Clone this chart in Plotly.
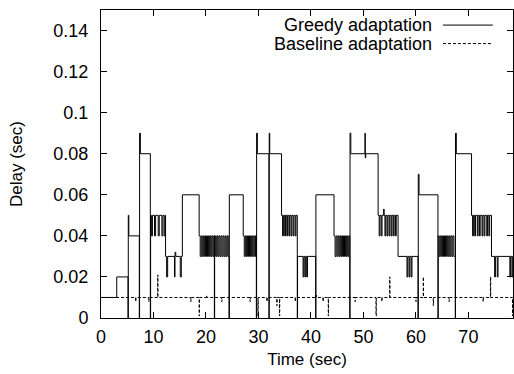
import plotly.graph_objects as go

# ---------------- data ----------------
greedy_steps = [
    (0.0, 0.01), (3.0, 0.02), (5.15, 0.0), (5.2, 0.05), (5.3, 0.04),
    (7.3, 0.0), (7.35, 0.09), (7.5, 0.08), (9.4, 0.0), (9.45, 0.05),
    (9.6, 0.04), (9.8, 0.05), (10.2, 0.04), (10.4, 0.05), (10.9, 0.04), (11.1, 0.05),
    (11.6, 0.04), (11.8, 0.05), (12.05, 0.04), (12.25, 0.05),
    (12.3, 0.03), (12.5, 0.02), (12.7, 0.03), (14.0, 0.02), (14.1, 0.032), (14.25, 0.03),
    (15.1, 0.02), (15.3, 0.03), (15.5, 0.06),
    (18.7, 0.04), (18.9, 0.03), (19.1, 0.04), (19.3, 0.03), (19.5, 0.04), (19.7, 0.03),
    (19.9, 0.04), (20.1, 0.03), (20.3, 0.04), (20.5, 0.03), (20.7, 0.04), (20.9, 0.03),
    (21.1, 0.04), (21.3, 0.03), (21.5, 0.04),
    (21.6, 0.0), (21.65, 0.04), (21.85, 0.03), (22.05, 0.04), (22.25, 0.03), (22.45, 0.04),
    (22.65, 0.03), (22.85, 0.04), (23.05, 0.03), (23.25, 0.04), (23.45, 0.03), (23.65, 0.04),
    (23.85, 0.03), (24.05, 0.04), (24.25, 0.03),
    (24.4, 0.0), (24.45, 0.06),
    (27.1, 0.04), (27.3, 0.03), (27.5, 0.04), (27.7, 0.03), (27.9, 0.04), (28.1, 0.03),
    (28.3, 0.04), (28.5, 0.03), (28.7, 0.04), (28.9, 0.03), (29.1, 0.04), (29.3, 0.03),
    (29.45, 0.04),
    (29.6, 0.0), (29.65, 0.09), (29.8, 0.08), (32.0, 0.0), (32.05, 0.09), (32.15, 0.08),
    (34.4, 0.05), (34.6, 0.04), (34.75, 0.05), (35.0, 0.04), (35.15, 0.05), (35.4, 0.04),
    (35.55, 0.05), (35.8, 0.04), (35.95, 0.05), (36.2, 0.04), (36.35, 0.05), (36.6, 0.04),
    (36.75, 0.05), (37.0, 0.04), (37.15, 0.05),
    (37.4, 0.0), (37.45, 0.03), (38.5, 0.02), (38.65, 0.03), (38.85, 0.02), (39.0, 0.03),
    (39.2, 0.02), (39.35, 0.03), (40.9, 0.0), (40.95, 0.06),
    (44.4, 0.04), (44.6, 0.03), (44.8, 0.04), (45.0, 0.03), (45.2, 0.04), (45.4, 0.03),
    (45.6, 0.04), (45.8, 0.03), (46.0, 0.04), (46.2, 0.03), (46.4, 0.04), (46.6, 0.03),
    (46.8, 0.04), (47.0, 0.03), (47.2, 0.04),
    (47.4, 0.0), (47.45, 0.09), (47.6, 0.08), (50.3, 0.09), (50.35, 0.078), (50.45, 0.08),
    (52.8, 0.05), (53.0, 0.04), (53.15, 0.05), (53.4, 0.04), (53.55, 0.05), (53.85, 0.053),
    (53.95, 0.05), (54.1, 0.04), (54.25, 0.05), (54.5, 0.04), (54.65, 0.05), (54.9, 0.04),
    (55.05, 0.05), (55.3, 0.04), (55.45, 0.05), (55.7, 0.04), (55.85, 0.05), (56.1, 0.04),
    (56.25, 0.05),
    (56.6, 0.03), (58.3, 0.02), (58.45, 0.03), (58.7, 0.02), (58.85, 0.03), (59.1, 0.02),
    (59.25, 0.03), (60.4, 0.0), (60.45, 0.07), (60.6, 0.06),
    (64.2, 0.0), (64.25, 0.04), (64.45, 0.03), (64.65, 0.04), (64.85, 0.03), (65.05, 0.04),
    (65.25, 0.03), (65.45, 0.04), (65.65, 0.03), (65.85, 0.04), (66.05, 0.03), (66.25, 0.04),
    (66.45, 0.03), (66.65, 0.04), (66.85, 0.03), (67.05, 0.04), (67.25, 0.03),
    (67.5, 0.0), (67.55, 0.09), (67.7, 0.08),
    (70.6, 0.05), (70.8, 0.04), (70.95, 0.05), (71.2, 0.04), (71.35, 0.05), (71.7, 0.04),
    (71.85, 0.05), (72.1, 0.04), (72.25, 0.05), (72.6, 0.04), (72.75, 0.05), (73.0, 0.04),
    (73.15, 0.05), (73.5, 0.04), (73.65, 0.05), (73.9, 0.04), (74.05, 0.05),
    (74.4, 0.03), (75.0, 0.02), (75.15, 0.03), (75.5, 0.02), (75.65, 0.03),
    (77.9, 0.02), (78.05, 0.03), (78.3, 0.02), (78.45, 0.03), (78.5, 0.03),
]

baseline_steps = [
    (0.0, 0.01), (6.6, 0.008), (6.65, 0.01), (9.1, 0.008), (9.15, 0.01),
    (10.8, 0.021), (10.85, 0.01), (17.1, 0.008), (17.15, 0.01), (18.7, 0.001), (18.75, 0.01),
    (20.1, 0.011), (20.15, 0.01), (23.0, 0.008), (23.05, 0.01), (28.4, 0.008), (28.45, 0.01),
    (29.9, 0.001), (29.95, 0.01), (31.6, 0.008), (31.65, 0.01), (33.5, 0.006), (33.55, 0.01),
    (34.0, 0.001), (34.05, 0.01), (37.0, 0.008), (37.05, 0.01), (41.0, 0.011), (41.05, 0.01),
    (42.3, 0.008), (42.35, 0.01), (43.3, 0.001), (43.35, 0.01), (48.4, 0.008), (48.45, 0.01),
    (52.4, 0.001), (52.45, 0.01), (53.5, 0.008), (53.55, 0.01), (55.0, 0.02), (55.05, 0.01),
    (60.0, 0.008), (60.05, 0.01), (61.4, 0.02), (61.45, 0.01), (63.3, 0.006), (63.35, 0.01),
    (66.3, 0.008), (66.35, 0.01), (72.8, 0.008), (72.85, 0.01), (74.2, 0.02), (74.25, 0.01),
    (78.4, 0.001), (78.45, 0.01), (78.5, 0.01),
]

greedy_t = [p[0] for p in greedy_steps]
greedy_v = [p[1] for p in greedy_steps]
baseline_t = [p[0] for p in baseline_steps]
baseline_v = [p[1] for p in baseline_steps]

series_names = ["Greedy adaptation", "Baseline adaptation"]
x_ticks = [0, 10, 20, 30, 40, 50, 60, 70]
y_ticks = [0, 0.02, 0.04, 0.06, 0.08, 0.1, 0.12, 0.14]
y_tick_labels = ["0", "0.02", "0.04", "0.06", "0.08", "0.1", "0.12", "0.14"]

FONT = "Liberation Sans, Arial, Helvetica, sans-serif"

fig = go.Figure()
fig.add_trace(go.Scatter(x=greedy_t, y=greedy_v, mode="lines", line_shape="hv",
                         line=dict(color="black", width=1), name=series_names[0],
                         showlegend=False))
fig.add_trace(go.Scatter(x=baseline_t, y=baseline_v, mode="lines", line_shape="hv",
                         line=dict(color="black", width=1, dash="3px,2px"),
                         name=series_names[1], showlegend=False))

# gnuplot-style key: text right-aligned, sample line to its right
key_rows = [0.951, 0.891]
key_dash = ["solid", "3px,2px"]
for name, yy, dash in zip(series_names, key_rows, key_dash):
    fig.add_annotation(x=0.806, y=yy, xref="paper", yref="paper", text=name,
                       showarrow=False, xanchor="right", yanchor="middle",
                       borderpad=0,
                       font=dict(family=FONT, size=18, color="black"))
    fig.add_shape(type="line", xref="paper", yref="paper", x0=0.830, x1=0.951,
                  y0=yy, y1=yy, line=dict(color="black", width=1, dash=dash))

axis_common = dict(showline=True, linecolor="black", linewidth=1, mirror="ticks",
                   ticks="inside", ticklen=6, tickcolor="black", tickwidth=1,
                   showgrid=False, zeroline=False,
                   tickfont=dict(family=FONT, size=18, color="black"))

fig.update_layout(
    width=514, height=374,
    margin=dict(l=101, r=1, t=10, b=56),
    paper_bgcolor="white", plot_bgcolor="white",
    xaxis=dict(range=[0, 78.5], tickvals=x_ticks, ticklabelstandoff=2,
               title=dict(text="Time (sec)", font=dict(family=FONT, size=17, color="black"),
                          standoff=7),
               **axis_common),
    yaxis=dict(range=[0, 0.15], tickvals=y_ticks, ticktext=y_tick_labels,
               ticklabelstandoff=8,
               title=dict(text="Delay (sec)", font=dict(family=FONT, size=17, color="black"),
                          standoff=26),
               **axis_common),
)

fig.write_html("out.html")
